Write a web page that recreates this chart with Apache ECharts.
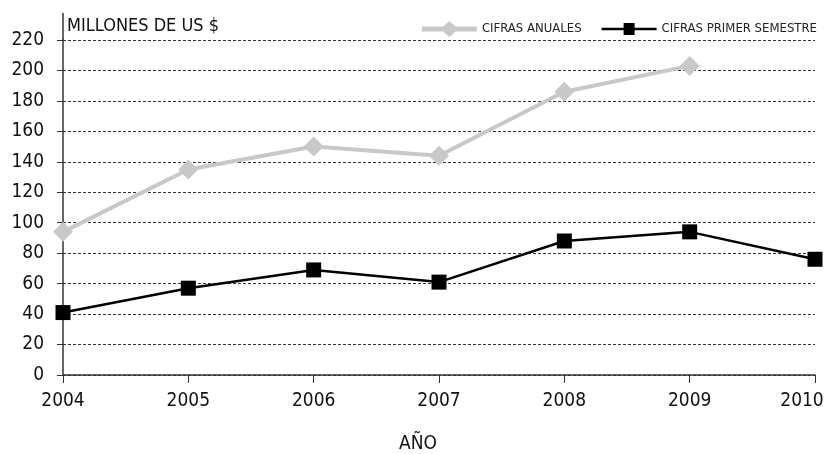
<!DOCTYPE html>
<html>
<head>
<meta charset="utf-8">
<script src="https://cdn.jsdelivr.net/npm/echarts@6/dist/echarts.min.js"></script>
<style>html,body{margin:0;padding:0;background:#fff}#c{width:825px;height:454px}</style>
</head>
<body>
<div id="c"></div>
<script>
const years = ['2004','2005','2006','2007','2008','2009','2010'];
const annual = [94, 135, 150, 144, 186, 203, null];
const semester = [41, 57, 69, 61, 88, 94, 76];
const yTicks = {min: 0, max: 220, interval: 20};

const FONT = '"DejaVu Sans Condensed", "Liberation Sans Narrow", sans-serif';
const catData = years.map((y, i) => i === years.length - 1
  ? {value: y, textStyle: {padding: [0, 26, 0, 0]}}
  : y);
const ICON_ANNUAL = 'path://M0 5.5 L21.3 5.5 L27.5 0 L33.7 5.5 L55 5.5 L55 10.5 L33.7 10.5 L27.5 16 L21.3 10.5 L0 10.5 Z';
const ICON_SEM = 'path://M0 4.75 L22 4.75 L22 0 L33 0 L33 4.75 L55 4.75 L55 7.25 L33 7.25 L33 12 L22 12 L22 7.25 L0 7.25 Z';
const chart = echarts.init(document.getElementById('c'), null, {renderer: 'canvas'});
chart.setOption({
  animation: false,
  backgroundColor: '#fff',
  textStyle: {fontFamily: FONT},
  grid: {left: 63, right: 10, top: 40, bottom: 79, containLabel: false, outerBoundsMode: 'none'},
  legend: {
    top: 16, right: 3,
    itemWidth: 55, itemHeight: 16, itemGap: 20,
    symbolKeepAspect: true,
    textStyle: {fontFamily: FONT, fontSize: 13, color: '#222'},
    data: [
      {name: 'CIFRAS ANUALES', icon: ICON_ANNUAL, itemStyle: {color: '#c8c8c8', borderWidth: 0}},
      {name: 'CIFRAS PRIMER SEMESTRE', icon: ICON_SEM, itemStyle: {color: '#000', borderWidth: 0}}
    ]
  },
  xAxis: {
    type: 'category', data: catData, boundaryGap: false,
    name: 'AÑO', nameLocation: 'middle', nameGap: 60,
    nameTextStyle: {fontFamily: FONT, fontSize: 19, color: '#111', padding: [0, 42, 0, 0]},
    axisLine: {lineStyle: {color: '#333', width: 1.5}},
    axisTick: {show: true, length: 8, lineStyle: {color: '#333'}},
    axisLabel: {fontFamily: FONT, fontSize: 19, color: '#111', margin: 17},
    splitLine: {show: false}
  },
  yAxis: {
    type: 'value', min: yTicks.min, max: yTicks.max, interval: yTicks.interval,
    name: 'MILLONES DE US $', nameLocation: 'end', nameGap: 5,
    nameTextStyle: {fontFamily: FONT, fontSize: 18, color: '#111', align: 'left', padding: [0,0,0,4]},
    axisLine: {show: true, lineStyle: {color: '#333', width: 1.5}},
    axisTick: {show: true, length: 6, lineStyle: {color: '#333'}},
    axisLabel: {fontFamily: FONT, fontSize: 19, color: '#111', margin: 19},
    splitLine: {show: true, lineStyle: {color: '#333', type: [3, 2], width: 1}}
  },
  graphic: [{
    type: 'line', shape: {x1: 63, y1: 13, x2: 63, y2: 40},
    style: {stroke: '#333', lineWidth: 1.5}
  }],
  series: [
    {
      name: 'CIFRAS ANUALES', type: 'line', data: annual,
      symbol: 'diamond', symbolSize: 20,
      itemStyle: {color: '#c8c8c8'},
      lineStyle: {color: '#c8c8c8', width: 4},
      z: 2
    },
    {
      name: 'CIFRAS PRIMER SEMESTRE', type: 'line', data: semester,
      symbol: 'rect', symbolSize: 15,
      itemStyle: {color: '#000'},
      lineStyle: {color: '#000', width: 2.5},
      z: 3
    }
  ]
});
</script>
</body>
</html>
